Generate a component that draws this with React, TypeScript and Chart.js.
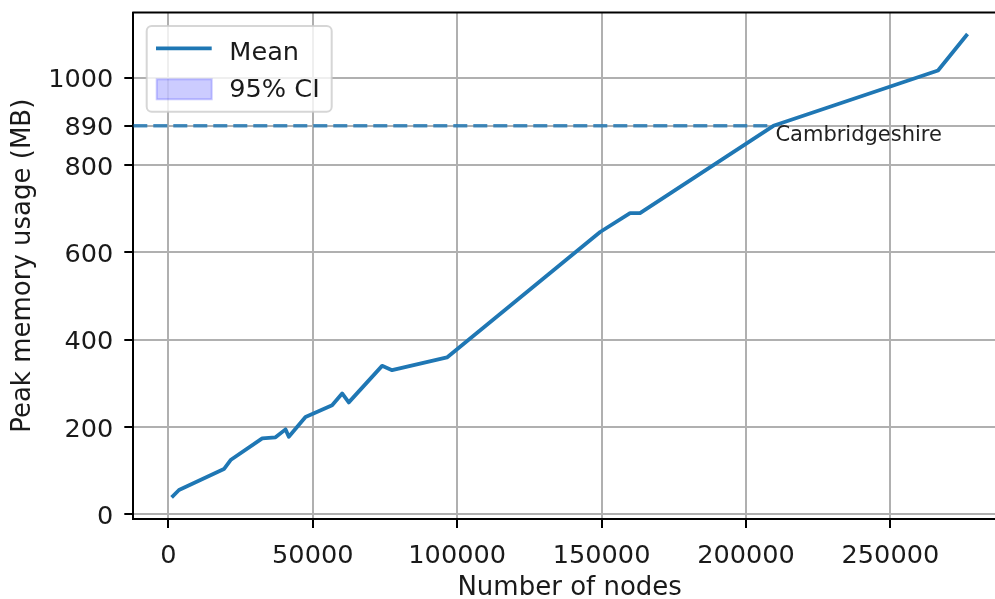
import { useEffect, useRef } from "react";
import { Chart, registerables } from "chart.js";

Chart.register(...registerables);

const FONT = "'DejaVu Sans', 'Liberation Sans', sans-serif";

// Data
const nodeCounts = [
  1590, 3670, 19230, 21540, 32500, 37100, 40560, 41700, 47480, 56700, 60170,
  62460, 74000, 77460, 96470, 149500, 159860, 163300, 209500, 266500, 276300,
];
const meanMemory = [
  41.9, 55.6, 103.6, 124.3, 173.9, 176.2, 194.5, 177.6, 223.0, 250.0, 276.9,
  256.3, 340.0, 330.2, 359.3, 646.7, 690.0, 690.0, 890.0, 1016.7, 1096.8,
];
const xTickValues = [0, 50000, 100000, 150000, 200000, 250000];
const yTickValues = [0, 200, 400, 600, 800, 890, 1000];
const thresholdMemory = 890;
const thresholdNodes = 209500;
const thresholdLabel = "Cambridgeshire";
const legendLabels = ["Mean", "95% CI"];
const xAxisTitle = "Number of nodes";
const yAxisTitle = "Peak memory usage (MB)";

// matplotlib-like 5% data margins
const xLo = Math.min(...nodeCounts);
const xHi = Math.max(...nodeCounts);
const yLo = Math.min(...meanMemory);
const yHi = Math.max(...meanMemory);
const xMin = xLo - 0.05 * (xHi - xLo);
const xMax = xHi + 0.05 * (xHi - xLo);
const yMin = yLo - 0.05 * (yHi - yLo);
const yMax = yHi + 0.05 * (yHi - yLo);

const LINE_BLUE = "#1f77b4";
const TEXT = "#1a1a1a";
const TICK_SIZE = 25.6;
const TITLE_SIZE = 26;

const decorPlugin = {
  id: "decor",
  afterDatasetsDraw(chart: any) {
    const { ctx, scales } = chart;
    const px = scales.x.getPixelForValue(thresholdNodes);
    const py = scales.y.getPixelForValue(thresholdMemory);
    ctx.save();
    ctx.font = `21px ${FONT}`;
    ctx.fillStyle = "#222";
    ctx.textBaseline = "alphabetic";
    ctx.textAlign = "left";
    ctx.fillText(thresholdLabel, px + 2, py + 15);
    ctx.restore();
  },
  afterDraw(chart: any) {
    const { ctx, chartArea } = chart;
    ctx.save();
    // top spine
    ctx.strokeStyle = "#000";
    ctx.lineWidth = 2;
    ctx.beginPath();
    ctx.moveTo(chartArea.left - 1, chartArea.top);
    ctx.lineTo(chartArea.right + 1, chartArea.top);
    ctx.stroke();

    // legend
    const bx = chartArea.left + 13.4;
    const by = chartArea.top + 13.5;
    const bw = 185;
    const bh = 85.7;
    ctx.beginPath();
    (ctx as any).roundRect(bx, by, bw, bh, 5);
    ctx.fillStyle = "rgba(255,255,255,0.8)";
    ctx.fill();
    ctx.strokeStyle = "rgba(204,204,204,0.8)";
    ctx.lineWidth = 2;
    ctx.stroke();

    // Mean handle
    ctx.beginPath();
    ctx.moveTo(bx + 9.3, by + 22.3);
    ctx.lineTo(bx + 65, by + 22.3);
    ctx.strokeStyle = LINE_BLUE;
    ctx.lineWidth = 3.8;
    ctx.lineCap = "butt";
    ctx.stroke();

    // CI patch
    ctx.fillStyle = "rgba(0,0,255,0.2)";
    ctx.fillRect(bx + 10, by + 53.3, 55, 20);
    ctx.strokeStyle = "rgba(0,0,255,0.2)";
    ctx.lineWidth = 2;
    ctx.strokeRect(bx + 10, by + 53.3, 55, 20);

    ctx.font = `${TICK_SIZE}px ${FONT}`;
    ctx.fillStyle = TEXT;
    ctx.textBaseline = "alphabetic";
    ctx.textAlign = "left";
    ctx.fillText(legendLabels[0], bx + 82.6, by + 34);
    ctx.fillText(legendLabels[1], bx + 82.6, by + 71.3);
    ctx.restore();
  },
};

export default function App() {
  const canvasRef = useRef<HTMLCanvasElement | null>(null);

  useEffect(() => {
    const canvas = canvasRef.current;
    if (!canvas) return;
    const chart = new Chart(canvas, {
      type: "line",
      data: {
        datasets: [
          {
            label: legendLabels[0],
            data: nodeCounts.map((x, i) => ({ x, y: meanMemory[i] })),
            borderColor: LINE_BLUE,
            backgroundColor: LINE_BLUE,
            borderWidth: 3.8,
            pointRadius: 0,
            tension: 0,
            fill: false,
            borderJoinStyle: "round",
            borderCapStyle: "square",
          },
          {
            label: thresholdLabel,
            data: [
              { x: xMin, y: thresholdMemory },
              { x: thresholdNodes, y: thresholdMemory },
            ],
            borderColor: "rgba(31,119,180,0.8)",
            borderWidth: 3.5,
            borderDash: [14, 6],
            pointRadius: 0,
            tension: 0,
            fill: false,
          },
        ],
      } as any,
      options: {
        animation: false,
        responsive: false,
        events: [],
        layout: { padding: { left: 0, top: 12.5, right: 6, bottom: 0 } },
        plugins: {
          legend: { display: false },
          tooltip: { enabled: false },
        },
        scales: {
          x: {
            type: "linear",
            min: xMin,
            max: xMax,
            afterBuildTicks: (s: any) => {
              s.ticks = xTickValues.map((v) => ({ value: v }));
            },
            afterFit: (s: any) => {
              s.height = 80;
              s.paddingLeft = 0;
              s.paddingRight = 0;
              s.paddingTop = 0;
              s.paddingBottom = 0;
            },
            grid: {
              color: "#b0b0b0",
              lineWidth: 2,
              tickColor: "#000",
              tickLength: 9,
              drawTicks: true,
            },
            border: { display: true, color: "#000", width: 2 },
            ticks: {
              font: { family: FONT, size: TICK_SIZE, lineHeight: 1.2 },
              color: TEXT,
              padding: 13,
              maxRotation: 0,
              autoSkip: false,
              callback: (v: any) => String(v),
            },
            title: {
              display: true,
              text: xAxisTitle,
              color: TEXT,
              font: { family: FONT, size: TITLE_SIZE, lineHeight: 0.8 },
              padding: { top: 0, bottom: 0 },
            },
          },
          y: {
            type: "linear",
            min: yMin,
            max: yMax,
            afterBuildTicks: (s: any) => {
              s.ticks = yTickValues.map((v) => ({ value: v }));
            },
            afterFit: (s: any) => {
              s.width = 133.3;
              s.paddingLeft = 0;
              s.paddingRight = 0;
              s.paddingTop = 0;
              s.paddingBottom = 0;
            },
            grid: {
              color: "#b0b0b0",
              lineWidth: 2,
              tickColor: "#000",
              tickLength: 9,
              drawTicks: true,
            },
            border: { display: true, color: "#000", width: 2 },
            ticks: {
              font: { family: FONT, size: TICK_SIZE, lineHeight: 1.2 },
              color: TEXT,
              padding: 11,
              labelOffset: 3,
              autoSkip: false,
              callback: (v: any) => String(v),
            },
            title: {
              display: true,
              text: yAxisTitle,
              color: TEXT,
              font: { family: FONT, size: TITLE_SIZE, lineHeight: 0.8 },
              padding: { top: 12.5, bottom: 0 },
            },
          },
        },
      } as any,
      plugins: [decorPlugin],
    });
    return () => chart.destroy();
  }, []);

  return (
    <div
      style={{
        position: "fixed",
        left: 0,
        top: 0,
        width: 995,
        height: 599,
        overflow: "hidden",
        background: "#fff",
      }}
    >
      <canvas
        ref={canvasRef}
        width={1012}
        height={599}
        style={{ display: "block", width: 1012, height: 599 }}
      />
    </div>
  );
}
